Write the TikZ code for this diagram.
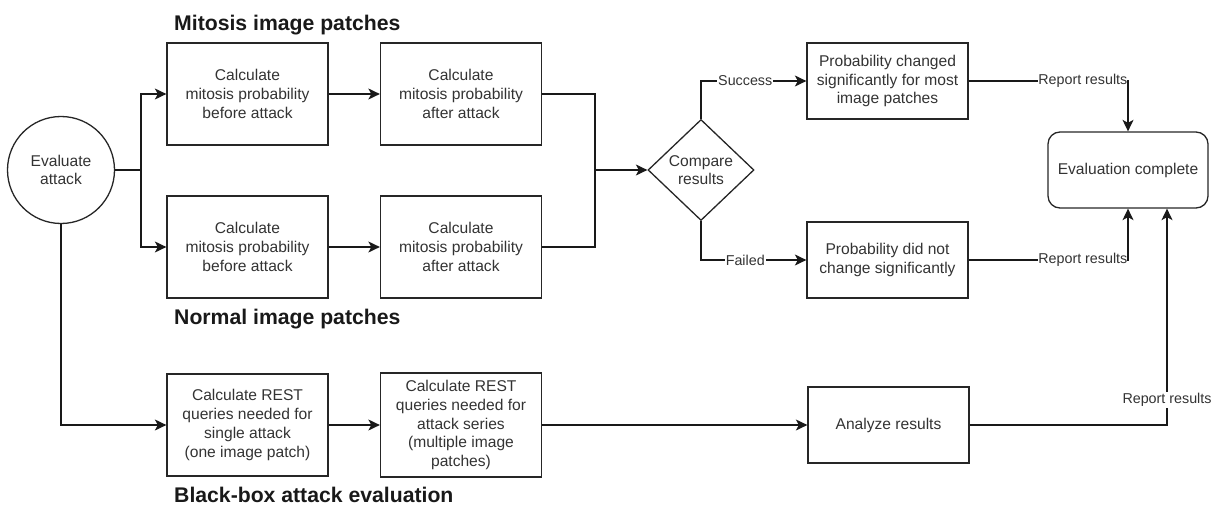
\documentclass[tikz,border=0pt]{standalone}
\usepackage{fontspec}
\setmainfont{Liberation Sans}
\usetikzlibrary{arrows.meta,shapes.geometric}
\definecolor{txt}{HTML}{333333}
\tikzset{
  box/.style={draw=black!85, line width=1.3pt, rectangle, inner sep=2pt, align=center,
    text=txt, font=\fontsize{15.6}{18.7}\selectfont},
  arr/.style={-{Stealth[length=11.5pt,width=11pt,inset=3pt]}},
  conn/.style={draw=black!90, line width=1.3pt},
  lbl/.style={fill=white, inner sep=1pt, text=txt, font=\fontsize{14.3}{16}\selectfont},
  heading/.style={anchor=base west, inner sep=0pt, font=\bfseries\fontsize{21.2}{24}\selectfont, text=black!90},
}
\begin{document}
\begin{tikzpicture}[x=1pt,y=-1pt]
\useasboundingbox (0,0) rectangle (1214,505);

% start circle
\node[box, circle, minimum size=107pt] (ev) at (61,170) {Evaluate\\attack};

% mitosis and normal patch rows
\node[box, minimum width=161pt, minimum height=102pt] (mb) at (247.5,94) {Calculate\\mitosis probability\\before attack};
\node[box, minimum width=161pt, minimum height=102pt] (ma) at (461,94) {Calculate\\mitosis probability\\after attack};
\node[box, minimum width=161pt, minimum height=102pt] (nb) at (247.5,247) {Calculate\\mitosis probability\\before attack};
\node[box, minimum width=161pt, minimum height=102pt] (na) at (461,247) {Calculate\\mitosis probability\\after attack};

% black-box row
\node[box, minimum width=161pt, minimum height=102pt] (ra) at (247.5,425) {Calculate REST\\queries needed for\\single attack\\(one image patch)};
\node[box, minimum width=161pt, minimum height=104pt] (rb) at (461,425) {Calculate REST\\queries needed for\\attack series\\(multiple image\\patches)};
\node[box, minimum width=161pt, minimum height=76pt] (an) at (888.5,425) {Analyze results};

% decision and outcomes
\node[box, diamond, minimum width=106pt, minimum height=101pt, inner sep=0pt] (cmp) at (701,170) {Compare\\results};
\node[box, minimum width=161pt, minimum height=76pt] (ok) at (887.5,81) {Probability changed\\significantly for most\\image patches};
\node[box, minimum width=161pt, minimum height=76pt] (no) at (887.5,260) {Probability did not\\change significantly};
\node[box, rounded corners=12pt, minimum width=160pt, minimum height=76pt] (done) at (1128,170) {Evaluation complete};

% group headings
\node[heading] (h1) at (174,31) {Mitosis image patches};
\node[heading] (h2) at (174,324) {Normal image patches};
\node[heading] (h3) at (174,502) {Black-box attack evaluation};

% branch from the start
\coordinate (br) at (141,170);
\draw[conn] (ev.east) -- (br);
\draw[conn, arr] (br) |- (mb.west);
\draw[conn, arr] (br) |- (nb.west);
\draw[conn, arr] (ev.south) |- (ra.west);

% row connectors
\draw[conn, arr] (mb.east) -- (ma.west);
\draw[conn, arr] (nb.east) -- (na.west);
\draw[conn, arr] (ra.east) -- (rb.west);
\draw[conn, arr] (rb.east) -- (an.west);

% merge into the comparison
\coordinate (mg) at (595,170);
\draw[conn] (ma.east) -| (mg);
\draw[conn] (na.east) -| (mg);
\draw[conn, arr] (mg) -- (cmp.west);

% outcomes
\draw[conn, arr] (cmp.north) |- node[lbl, pos=0.71] {Success} (ok.west);
\draw[conn, arr] (cmp.south) |- node[lbl, pos=0.71] {Failed} (no.west);

% reporting
\draw[conn, arr] (ok.east) -| node[lbl, pos=0.5, anchor=east, inner xsep=0pt] {Report results} (done.north);
\draw[conn, arr] (no.east) -| node[lbl, pos=0.5, anchor=east, inner xsep=0pt] {Report results} (done.south);
\draw[conn, arr] (an.east) -| node[lbl, pos=0.558] {Report results} ([xshift=39pt]done.south);
\end{tikzpicture}
\end{document}
